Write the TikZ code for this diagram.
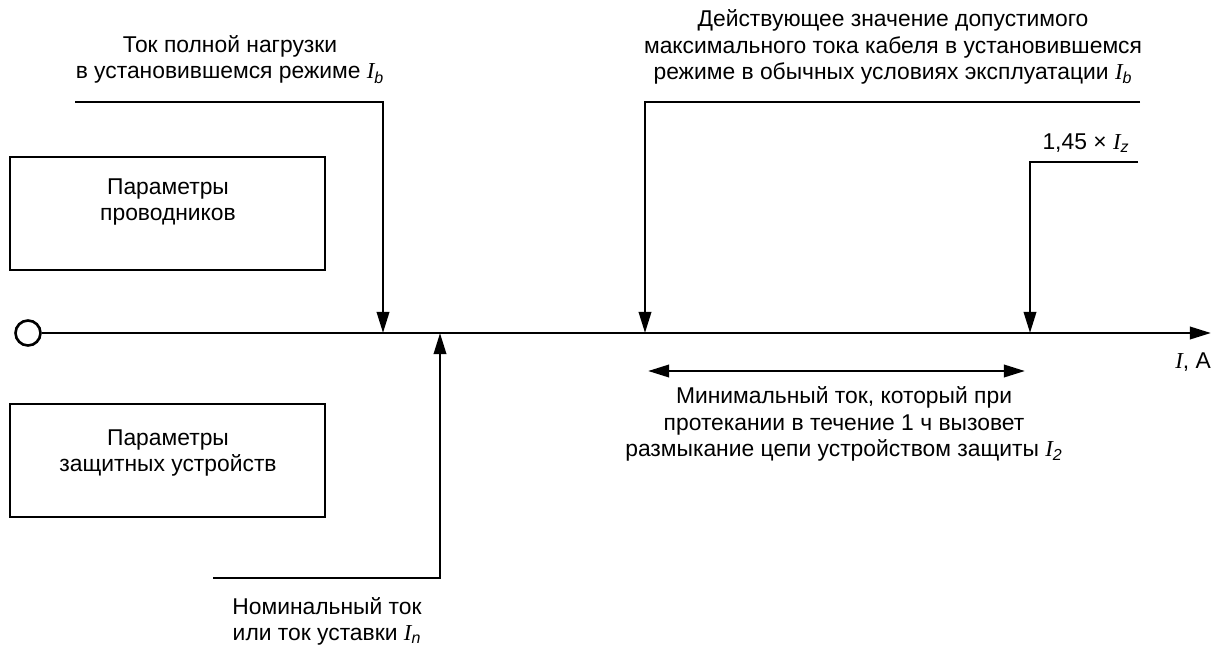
\documentclass[tikz,border=0pt]{standalone}
\usepackage{fontspec}
\setmainfont{Liberation Sans}
\newfontfamily\serifit{Liberation Serif}
\usetikzlibrary{arrows.meta}

\newcommand{\Icur}[1]{{\serifit\itshape I}\textsubscript{\itshape #1}}

\tikzset{
	lead/.style={line width=1.5pt, -{Triangle[length=12pt,width=7pt]}},
	twoway/.style={line width=1.5pt, {Triangle[length=12pt,width=7pt]}-{Triangle[length=12pt,width=7pt]}},
	frame/.style={draw, line width=1.5pt, minimum width=6.3cm, minimum height=2.26cm, inner sep=0pt},
	txt/.style={align=center, inner sep=0pt, font=\fontsize{13}{15}\selectfont}
}

\begin{document}
\begin{tikzpicture}[x=0.02cm, y=-0.02cm]
		\useasboundingbox (0,0) rectangle (1212,646);

		% axis
		\node[draw, circle, line width=1.5pt, minimum size=0.5cm, inner sep=0pt] (o) at (28,333) {};
		\coordinate (axend) at (1211,333);
		\draw[lead] (o) -- (axend);
		\node[txt] (unit) at (1193,362) {{\serifit\itshape I}, A};

		% boxes
		\node[frame] (cond) at (167.5,213.5) {};
		\node[txt] (condtxt) at (168,202) {Параметры\\проводников};
		\node[frame] (prot) at (167.5,460.5) {};
		\node[txt] (prottxt) at (168,453) {Параметры\\защитных устройств};

		% leaders
		\coordinate (ib0) at (75,102);
		\coordinate (ib1) at (383,102);
		\coordinate (ib) at (383,333);
		\coordinate (in0) at (213,578);
		\coordinate (in1) at (440,578);
		\coordinate (in) at (440,333);
		\coordinate (iz0) at (1140,102);
		\coordinate (iz1) at (645,102);
		\coordinate (iz) at (645,333);
		\coordinate (ik0) at (1138,162);
		\coordinate (ik1) at (1030,162);
		\coordinate (ik) at (1030,333);
		\coordinate (i2a) at (648,371);
		\coordinate (i2b) at (1025,371);

		\draw[lead] (ib0) -- (ib1) -- (ib);
		\draw[lead] (in0) -- (in1) -- (in);
		\draw[lead] (iz0) -- (iz1) -- (iz);
		\draw[lead] (ik0) -- (ik1) -- (ik);
		\draw[twoway] (i2a) -- (i2b);

		% labels
		\node[txt] (ibtxt) at (230,59.5) {Ток полной нагрузки\\в установившемся режиме \Icur{b}};
		\node[txt] (intxt) at (327,621.5) {Номинальный ток\\или ток уставки \Icur{n}};
		\node[txt] (iztxt) at (893,47) {Действующее значение допустимого\\максимального тока кабеля в установившемся\\режиме в обычных условиях эксплуатации \Icur{b}};
		\node[txt] (iktxt) at (1086,143) {1,45 × \Icur{z}};
		\node[txt] (i2txt) at (844,424) {Минимальный ток, который при\\протекании в течение 1 ч вызовет\\размыкание цепи устройством защиты \Icur{2}};
	\end{tikzpicture}
\end{document}
